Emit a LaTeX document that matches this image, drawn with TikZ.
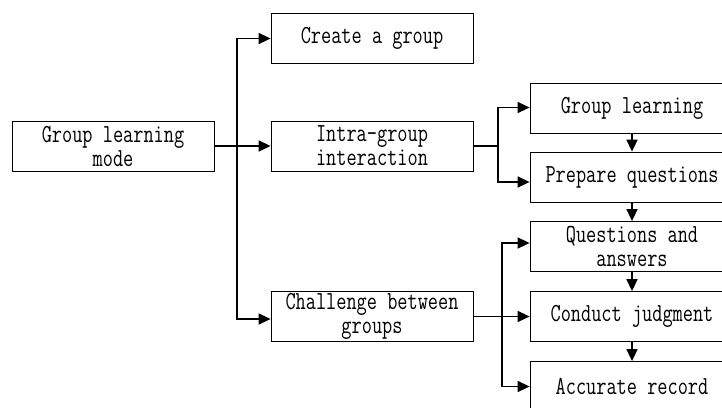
\documentclass[tikz,border=0pt]{standalone}
\usepackage{fontspec}
\newfontfamily\boxfont[FakeStretch=0.76]{Latin Modern Mono}
\usetikzlibrary{arrows.meta}
\begin{document}
\begin{tikzpicture}[x=1pt,y=-1pt,
  box/.style={draw,line width=0.8pt,minimum width=202pt,minimum height=50pt,inner sep=0pt,align=center,
    font=\boxfont\fontsize{26}{24}\selectfont},
  wbox/.style={box,minimum width=204pt},
  conn/.style={line width=1.6pt,-{Triangle[length=12pt,width=11pt]}},
  plain/.style={line width=1.6pt}]
\clip (0,0) rectangle (722,407);
\fill[white] (0,0) rectangle (722,407);
\node[box] (gl) at (113,146) {Group learning\\mode};
\node[box] (cg) at (372,38.5) {Create a group};
\node[box] (ig) at (372,146) {Intra-group\\interaction};
\node[box] (cb) at (372,316.5) {Challenge between\\groups};
\node[wbox] (glr) at (632,108) {Group learning};
\node[wbox] (pq) at (632,177) {Prepare questions};
\node[wbox] (qa) at (632,246.5) {Questions and\\answers};
\node[wbox] (cj) at (632,316.5) {Conduct judgment};
\node[wbox] (ar) at (632,386.5) {Accurate record};
\coordinate (t1) at (237,146);
\coordinate (t2) at (498,146);
\coordinate (t3) at (502,316.5);
% trunk from Group learning mode
\draw[conn] (gl.east) -- (ig.west);
\draw[conn] (t1) |- (cg.west);
\draw[conn] (t1) |- ([yshift=-2.5pt]cb.west);
% branch from Intra-group interaction
\draw[plain] (ig.east) -- (t2);
\draw[conn] (t2) |- ([yshift=0.5pt]glr.west);
\draw[conn] (t2) |- ([yshift=-5pt]pq.west);
% branch from Challenge between groups
\draw[conn] (cb.east) -- (cj.west);
\draw[conn] (t3) |- ([yshift=3.5pt]qa.west);
\draw[conn] (t3) |- (ar.west);
% chain
\draw[conn] (glr.south) -- (pq.north);
\draw[conn] (pq.south) -- (qa.north);
\draw[conn] (qa.south) -- (cj.north);
\draw[conn] (cj.south) -- (ar.north);
\end{tikzpicture}
\end{document}
